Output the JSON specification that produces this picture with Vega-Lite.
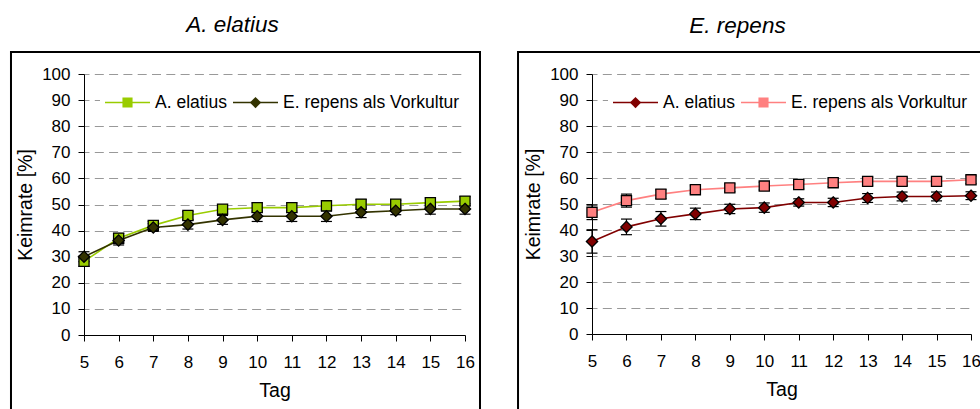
{
  "$schema": "https://vega.github.io/schema/vega-lite/v6.json",
  "padding": {"left": 9, "top": 14, "right": 0, "bottom": 0},
  "spacing": 36,
  "data": {
    "values": [
      {"panel": "A. elatius", "series": "A. elatius", "tag": 5, "keimrate": 28.2, "fehler": 1.9},
      {"panel": "A. elatius", "series": "A. elatius", "tag": 6, "keimrate": 37.1, "fehler": 1.8},
      {"panel": "A. elatius", "series": "A. elatius", "tag": 7, "keimrate": 42.0, "fehler": 1.5},
      {"panel": "A. elatius", "series": "A. elatius", "tag": 8, "keimrate": 45.8, "fehler": 1.5},
      {"panel": "A. elatius", "series": "A. elatius", "tag": 9, "keimrate": 48.2, "fehler": 1.5},
      {"panel": "A. elatius", "series": "A. elatius", "tag": 10, "keimrate": 48.8, "fehler": 1.8},
      {"panel": "A. elatius", "series": "A. elatius", "tag": 11, "keimrate": 48.8, "fehler": 1.8},
      {"panel": "A. elatius", "series": "A. elatius", "tag": 12, "keimrate": 49.5, "fehler": 1.5},
      {"panel": "A. elatius", "series": "A. elatius", "tag": 13, "keimrate": 50.1, "fehler": 1.8},
      {"panel": "A. elatius", "series": "A. elatius", "tag": 14, "keimrate": 50.1, "fehler": 1.5},
      {"panel": "A. elatius", "series": "A. elatius", "tag": 15, "keimrate": 50.7, "fehler": 1.8},
      {"panel": "A. elatius", "series": "A. elatius", "tag": 16, "keimrate": 51.3, "fehler": 1.7},
      {"panel": "A. elatius", "series": "E. repens als Vorkultur", "tag": 5, "keimrate": 30.0, "fehler": 1.9},
      {"panel": "A. elatius", "series": "E. repens als Vorkultur", "tag": 6, "keimrate": 36.2, "fehler": 1.7},
      {"panel": "A. elatius", "series": "E. repens als Vorkultur", "tag": 7, "keimrate": 41.2, "fehler": 1.5},
      {"panel": "A. elatius", "series": "E. repens als Vorkultur", "tag": 8, "keimrate": 42.3, "fehler": 1.7},
      {"panel": "A. elatius", "series": "E. repens als Vorkultur", "tag": 9, "keimrate": 44.1, "fehler": 1.7},
      {"panel": "A. elatius", "series": "E. repens als Vorkultur", "tag": 10, "keimrate": 45.5, "fehler": 2.0},
      {"panel": "A. elatius", "series": "E. repens als Vorkultur", "tag": 11, "keimrate": 45.5, "fehler": 2.0},
      {"panel": "A. elatius", "series": "E. repens als Vorkultur", "tag": 12, "keimrate": 45.5, "fehler": 2.0},
      {"panel": "A. elatius", "series": "E. repens als Vorkultur", "tag": 13, "keimrate": 47.0, "fehler": 2.0},
      {"panel": "A. elatius", "series": "E. repens als Vorkultur", "tag": 14, "keimrate": 47.6, "fehler": 1.5},
      {"panel": "A. elatius", "series": "E. repens als Vorkultur", "tag": 15, "keimrate": 48.3, "fehler": 2.0},
      {"panel": "A. elatius", "series": "E. repens als Vorkultur", "tag": 16, "keimrate": 48.3, "fehler": 2.0},
      {"panel": "E. repens", "series": "A. elatius", "tag": 5, "keimrate": 35.6, "fehler": 4.5},
      {"panel": "E. repens", "series": "A. elatius", "tag": 6, "keimrate": 41.2, "fehler": 3.0},
      {"panel": "E. repens", "series": "A. elatius", "tag": 7, "keimrate": 44.3, "fehler": 2.8},
      {"panel": "E. repens", "series": "A. elatius", "tag": 8, "keimrate": 46.2, "fehler": 2.2},
      {"panel": "E. repens", "series": "A. elatius", "tag": 9, "keimrate": 48.1, "fehler": 1.8},
      {"panel": "E. repens", "series": "A. elatius", "tag": 10, "keimrate": 48.6, "fehler": 1.8},
      {"panel": "E. repens", "series": "A. elatius", "tag": 11, "keimrate": 50.6, "fehler": 1.4},
      {"panel": "E. repens", "series": "A. elatius", "tag": 12, "keimrate": 50.6, "fehler": 1.6},
      {"panel": "E. repens", "series": "A. elatius", "tag": 13, "keimrate": 52.3, "fehler": 1.7},
      {"panel": "E. repens", "series": "A. elatius", "tag": 14, "keimrate": 52.9, "fehler": 1.7},
      {"panel": "E. repens", "series": "A. elatius", "tag": 15, "keimrate": 52.9, "fehler": 1.7},
      {"panel": "E. repens", "series": "A. elatius", "tag": 16, "keimrate": 53.2, "fehler": 1.5},
      {"panel": "E. repens", "series": "E. repens als Vorkultur", "tag": 5, "keimrate": 46.8, "fehler": 2.8},
      {"panel": "E. repens", "series": "E. repens als Vorkultur", "tag": 6, "keimrate": 51.3, "fehler": 2.5},
      {"panel": "E. repens", "series": "E. repens als Vorkultur", "tag": 7, "keimrate": 53.8, "fehler": 1.7},
      {"panel": "E. repens", "series": "E. repens als Vorkultur", "tag": 8, "keimrate": 55.5, "fehler": 1.5},
      {"panel": "E. repens", "series": "E. repens als Vorkultur", "tag": 9, "keimrate": 56.2, "fehler": 1.5},
      {"panel": "E. repens", "series": "E. repens als Vorkultur", "tag": 10, "keimrate": 56.9, "fehler": 1.5},
      {"panel": "E. repens", "series": "E. repens als Vorkultur", "tag": 11, "keimrate": 57.5, "fehler": 1.7},
      {"panel": "E. repens", "series": "E. repens als Vorkultur", "tag": 12, "keimrate": 58.2, "fehler": 1.5},
      {"panel": "E. repens", "series": "E. repens als Vorkultur", "tag": 13, "keimrate": 58.7, "fehler": 1.5},
      {"panel": "E. repens", "series": "E. repens als Vorkultur", "tag": 14, "keimrate": 58.7, "fehler": 1.5},
      {"panel": "E. repens", "series": "E. repens als Vorkultur", "tag": 15, "keimrate": 58.7, "fehler": 1.5},
      {"panel": "E. repens", "series": "E. repens als Vorkultur", "tag": 16, "keimrate": 59.3, "fehler": 1.5}
    ]
  },
  "hconcat": [
    {
      "title": {"text": "A. elatius", "dx": -42},
      "width": 381,
      "height": 261,
      "layer": [
        {
          "transform": [{"filter": "datum.panel === 'A. elatius'"}],
          "encoding": {
            "x": {
              "field": "tag", "type": "quantitative",
              "scale": {"domain": [5, 16], "nice": false, "zero": false},
              "axis": {"title": "Tag", "values": [5, 6, 7, 8, 9, 10, 11, 12, 13, 14, 15, 16], "format": "d", "grid": false, "labelPadding": 13, "titlePadding": 11}
            },
            "y": {
              "field": "keimrate", "type": "quantitative",
              "scale": {"domain": [0, 100], "nice": false},
              "axis": {"title": "Keimrate [%]", "values": [0, 10, 20, 30, 40, 50, 60, 70, 80, 90, 100], "grid": true, "labelPadding": 8, "titlePadding": 6}
            }
          },
          "layer": [
            {
              "mark": {"type": "line", "strokeWidth": 1.6},
              "encoding": {
                "stroke": {
                  "field": "series", "type": "nominal",
                  "scale": {"domain": ["A. elatius", "E. repens als Vorkultur"], "range": ["#99CC00", "#333300"]},
                  "legend": {"orient": "none", "legendX": 16, "legendY": 15.5, "direction": "horizontal", "title": null, "symbolType": "stroke", "symbolSize": 2025, "symbolStrokeWidth": 1.6, "labelFontSize": 17.5, "labelOffset": 4, "columnPadding": 5, "clipHeight": 18, "padding": 4, "fillColor": "white", "zindex": 1}
                }
              }
            },
            {
              "mark": {"type": "errorbar", "ticks": {"opacity": 1, "color": "black"}, "rule": {"opacity": 1, "color": "black"}, "size": 11, "thickness": 1.2, "color": "black", "opacity": 1},
              "encoding": {"yError": {"field": "fehler"}}
            },
            {
              "mark": {"type": "point", "filled": true, "opacity": 1, "stroke": "black", "strokeWidth": 1.3, "size": 2025},
              "encoding": {
                "fill": {
                  "field": "series", "type": "nominal",
                  "scale": {"range": ["#99CC00", "#333300"]},
                  "legend": {"orient": "none", "legendX": 16, "legendY": 15.5, "direction": "horizontal", "title": null, "symbolSize": 2025, "symbolStrokeWidth": 1.6, "symbolStrokeColor": "black", "labelFontSize": 17.5, "labelOffset": 4, "columnPadding": 5, "clipHeight": 18, "padding": 4, "labelOpacity": 0, "zindex": 2}
                },
                "shape": {
                  "field": "series", "type": "nominal",
                  "scale": {"range": ["M-0.225,-0.225H0.225V0.225H-0.225Z", "M0,-0.25L0.25,0L0,0.25L-0.25,0Z"]},
                  "legend": {"orient": "none", "legendX": 16, "legendY": 15.5, "direction": "horizontal", "title": null, "symbolSize": 2025, "symbolStrokeWidth": 1.6, "symbolStrokeColor": "black", "labelFontSize": 17.5, "labelOffset": 4, "columnPadding": 5, "clipHeight": 18, "padding": 4, "labelOpacity": 0, "zindex": 2}
                }
              }
            }
          ]
        },
        {
          "data": {"values": [{}]},
          "mark": {"type": "rect", "filled": false, "stroke": "black", "strokeWidth": 2},
          "encoding": {
            "x": {"datum": 2.892, "type": "quantitative", "axis": {"title": "Tag", "values": [5, 6, 7, 8, 9, 10, 11, 12, 13, 14, 15, 16], "format": "d", "grid": false, "labelPadding": 13, "titlePadding": 11}},
            "x2": {"datum": 16.433},
            "y": {"datum": 108.43, "type": "quantitative", "axis": {"title": "Keimrate [%]", "values": [0, 10, 20, 30, 40, 50, 60, 70, 80, 90, 100], "grid": true, "labelPadding": 8, "titlePadding": 6}},
            "y2": {"datum": -32}
          }
        }
      ]
    },
    {
      "title": {"text": "E. repens", "dx": -44},
      "width": 379,
      "height": 260,
      "layer": [
        {
          "transform": [{"filter": "datum.panel === 'E. repens'"}],
          "encoding": {
            "x": {
              "field": "tag", "type": "quantitative",
              "scale": {"domain": [5, 16], "nice": false, "zero": false},
              "axis": {"title": "Tag", "values": [5, 6, 7, 8, 9, 10, 11, 12, 13, 14, 15, 16], "format": "d", "grid": false, "labelPadding": 13, "titlePadding": 11}
            },
            "y": {
              "field": "keimrate", "type": "quantitative",
              "scale": {"domain": [0, 100], "nice": false},
              "axis": {"title": "Keimrate [%]", "values": [0, 10, 20, 30, 40, 50, 60, 70, 80, 90, 100], "grid": true, "labelPadding": 8, "titlePadding": 6}
            }
          },
          "layer": [
            {
              "mark": {"type": "line", "strokeWidth": 1.6},
              "encoding": {
                "stroke": {
                  "field": "series", "type": "nominal",
                  "scale": {"domain": ["A. elatius", "E. repens als Vorkultur"], "range": ["#800000", "#FF8080"]},
                  "legend": {"orient": "none", "legendX": 16, "legendY": 15.5, "direction": "horizontal", "title": null, "symbolType": "stroke", "symbolSize": 2025, "symbolStrokeWidth": 1.6, "labelFontSize": 17.5, "labelOffset": 4, "columnPadding": 5, "clipHeight": 18, "padding": 4, "fillColor": "white", "zindex": 1}
                }
              }
            },
            {
              "mark": {"type": "errorbar", "ticks": {"opacity": 1, "color": "black"}, "rule": {"opacity": 1, "color": "black"}, "size": 11, "thickness": 1.2, "color": "black", "opacity": 1},
              "encoding": {"yError": {"field": "fehler"}}
            },
            {
              "mark": {"type": "point", "filled": true, "opacity": 1, "stroke": "black", "strokeWidth": 1.3, "size": 2025},
              "encoding": {
                "fill": {
                  "field": "series", "type": "nominal",
                  "scale": {"range": ["#800000", "#FF8080"]},
                  "legend": {"orient": "none", "legendX": 16, "legendY": 15.5, "direction": "horizontal", "title": null, "symbolSize": 2025, "symbolStrokeWidth": 1.6, "symbolStrokeColor": "black", "labelFontSize": 17.5, "labelOffset": 4, "columnPadding": 5, "clipHeight": 18, "padding": 4, "labelOpacity": 0, "zindex": 2}
                },
                "shape": {
                  "field": "series", "type": "nominal",
                  "scale": {"range": ["M0,-0.25L0.25,0L0,0.25L-0.25,0Z", "M-0.225,-0.225H0.225V0.225H-0.225Z"]},
                  "legend": {"orient": "none", "legendX": 16, "legendY": 15.5, "direction": "horizontal", "title": null, "symbolSize": 2025, "symbolStrokeWidth": 1.6, "symbolStrokeColor": "black", "labelFontSize": 17.5, "labelOffset": 4, "columnPadding": 5, "clipHeight": 18, "padding": 4, "labelOpacity": 0, "zindex": 2}
                }
              }
            }
          ]
        },
        {
          "data": {"values": [{}]},
          "mark": {"type": "rect", "filled": false, "stroke": "black", "strokeWidth": 2},
          "encoding": {
            "x": {"datum": 2.853, "type": "quantitative", "axis": {"title": "Tag", "values": [5, 6, 7, 8, 9, 10, 11, 12, 13, 14, 15, 16], "format": "d", "grid": false, "labelPadding": 13, "titlePadding": 11}},
            "x2": {"datum": 16.435},
            "y": {"datum": 108.46, "type": "quantitative", "axis": {"title": "Keimrate [%]", "values": [0, 10, 20, 30, 40, 50, 60, 70, 80, 90, 100], "grid": true, "labelPadding": 8, "titlePadding": 6}},
            "y2": {"datum": -32}
          }
        }
      ]
    }
  ],
  "resolve": {
    "scale": {"stroke": "independent", "fill": "independent", "shape": "independent"},
    "legend": {"stroke": "independent", "fill": "independent", "shape": "independent"}
  },
  "config": {
    "font": "Liberation Sans",
    "view": {"stroke": null},
    "title": {"fontSize": 22.5, "fontStyle": "italic", "fontWeight": "normal", "color": "black", "anchor": "middle", "frame": "group", "offset": 14, "baseline": "alphabetic"},
    "axis": {
      "labelFontSize": 17, "titleFontSize": 19.5, "titleFontWeight": "normal",
      "labelColor": "black", "titleColor": "black",
      "domainColor": "black", "domainWidth": 1, "tickColor": "black", "tickWidth": 1, "tickSize": 6,
      "gridColor": "#999999", "gridDash": [9, 5.3], "gridDashOffset": 4, "gridWidth": 1,
      "labelFlush": false, "labelOverlap": false
    },
    "legend": {"labelColor": "black", "labelFont": "Liberation Sans", "labelLimit": 400}
  }
}
